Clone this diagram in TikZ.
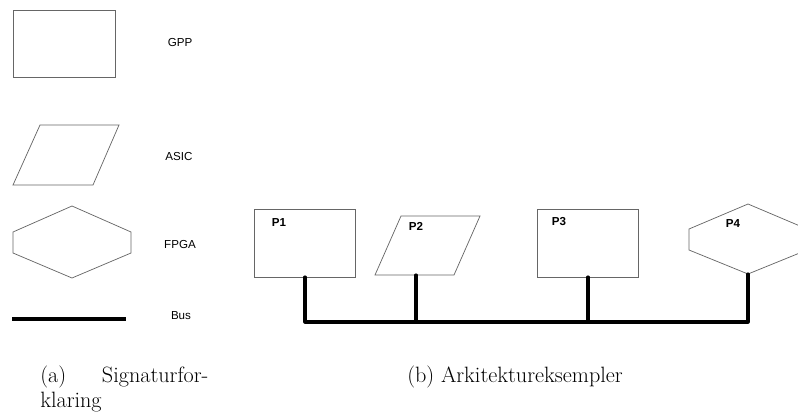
\documentclass[tikz,border=0pt]{standalone}
\usepackage{fontspec}
\newfontfamily\arialfont{Liberation Sans}
\usepackage{xcolor}

\tikzset{
	outline/.style={draw=black!60, line width=0.5pt},
	bus/.style={line width=2.1pt, line cap=round, line join=round},
	lbl/.style={font=\arialfont\fontsize{8}{9}\selectfont, inner sep=0pt},
	plbl/.style={font=\arialfont\bfseries\fontsize{8}{9}\selectfont, inner sep=0pt},
	caption/.style={font=\fontsize{15.3}{17.3}\selectfont, inner sep=0pt, anchor=base west},
}

\begin{document}
\begin{tikzpicture}[x=0.69pt, y=-0.69pt]
	% Parameters
	\def\busy{322}
	\def\hexw{59}
	
	\useasboundingbox (0,0) rectangle (798,412);
	
	%signatures
	\draw[outline] (13,10) rectangle (115,77);
	\draw[outline] (40,125) -- (119,125) -- (93,185) -- (13,185) -- cycle;
	\draw[outline] (72,206) -- (72+\hexw,232) -- (72+\hexw,253) -- (72,278) -- (72-\hexw,253) -- (72-\hexw,232) -- cycle;
	\coordinate (l1) at (12,319);
	\coordinate (l2) at (126,319);
	\draw[bus, line cap=butt] (l1) -- (l2);
	
	%signature labels
	\node[lbl] (gpp) at (180,43) {GPP};
	\node[lbl] (asic) at (179,157) {ASIC};
	\node[lbl] (fpga) at (180,245) {FPGA};
	\node[lbl] (busl) at (181,316) {Bus};
	
	%blocks
	\draw[outline] (254,209) rectangle (355,277);
	\draw[outline] (401,216) -- (480,216) -- (454,275) -- (375,275) -- cycle;
	\draw[outline] (537,209) rectangle (638,277);
	\draw[outline] (748,204) -- (748+\hexw,229) -- (748+\hexw,250) -- (748,274) -- (748-\hexw,250) -- (748-\hexw,229) -- cycle;
	
	%block labels
	\node[plbl] (P1) at (279,223) {P1};
	\node[plbl] (P2) at (416,226) {P2};
	\node[plbl] (P3) at (559,222) {P3};
	\node[plbl] (P4) at (733,224) {P4};
	
	%bus
	\coordinate (p1) at (305,277);
	\coordinate (p2) at (416,275);
	\coordinate (p3) at (588,277);
	\coordinate (p4) at (748,274);
	\coordinate (b1) at (305,\busy);
	\coordinate (b2) at (416,\busy);
	\coordinate (b3) at (588,\busy);
	\coordinate (b4) at (748,\busy);
	\draw[bus] (p1) -- (b1) -- (b4) -- (p4);
	\draw[bus] (p2) -- (b2);
	\draw[bus] (p3) -- (b3);
	
	%captions
	\node[caption, text width=116pt, align=left] (capa) at (40,382)
		{\makebox[116pt][l]{(a)\hfill Signaturfor-}\\klaring};
	\node[caption] (capb) at (407,382) {(b) Arkitektureksempler};
\end{tikzpicture}
\end{document}
